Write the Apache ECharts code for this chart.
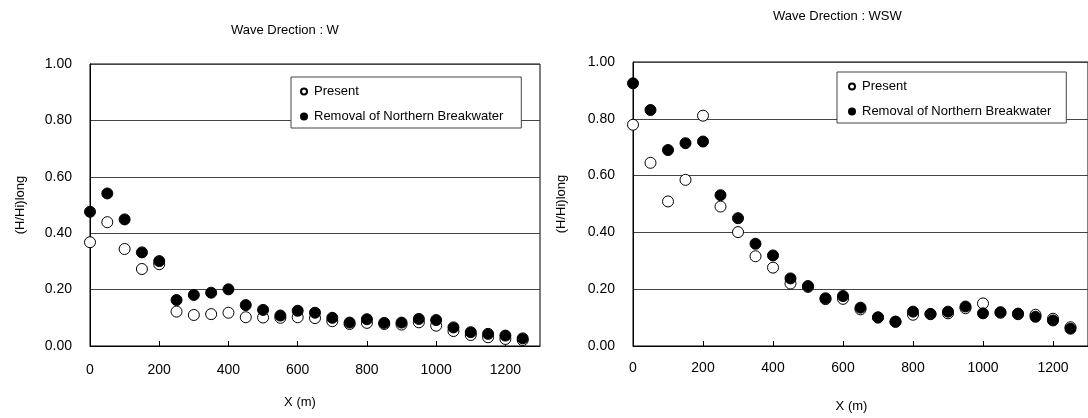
<!DOCTYPE html>
<html>
<head>
<meta charset="utf-8">
<script src="https://cdn.jsdelivr.net/npm/echarts@6/dist/echarts.min.js"></script>
<style>
  html, body { margin: 0; padding: 0; background: #fff; }
  #chart { width: 1088px; height: 418px; }
</style>
</head>
<body>
<div id="chart"></div>
<script>
// distance along the line, m
const distances = [0, 50, 100, 150, 200, 250, 300, 350, 400, 450, 500, 550, 600,
  650, 700, 750, 800, 850, 900, 950, 1000, 1050, 1100, 1150, 1200, 1250];

// Wave direction W
const presentW = [0.368, 0.439, 0.344, 0.273, 0.290, 0.122, 0.110, 0.113, 0.118, 0.102, 0.101, 0.100, 0.102,
  0.099, 0.088, 0.078, 0.082, 0.078, 0.076, 0.084, 0.072, 0.053, 0.039, 0.031, 0.025, 0.021];
const removalW = [0.476, 0.541, 0.449, 0.332, 0.301, 0.163, 0.181, 0.189, 0.201, 0.145, 0.128, 0.108, 0.125,
  0.118, 0.100, 0.083, 0.095, 0.082, 0.083, 0.096, 0.092, 0.066, 0.049, 0.043, 0.037, 0.027];

// Wave direction WSW
const presentWSW = [0.779, 0.645, 0.509, 0.585, 0.811, 0.491, 0.401, 0.316, 0.276, 0.220, 0.208, 0.165, 0.166,
  0.129, 0.100, 0.085, 0.110, 0.112, 0.115, 0.133, 0.150, 0.117, 0.112, 0.110, 0.096, 0.066];
const removalWSW = [0.925, 0.831, 0.690, 0.714, 0.720, 0.531, 0.450, 0.360, 0.319, 0.238, 0.211, 0.168, 0.176,
  0.135, 0.101, 0.086, 0.121, 0.113, 0.121, 0.139, 0.115, 0.119, 0.114, 0.103, 0.090, 0.061];

const seriesNames = ["Present", "Removal of Northern Breakwater"];
const titles = ["Wave Drection : W", "Wave Drection : WSW"];

const FONT = "'Liberation Sans', Arial, sans-serif";

const pairs = (ys) => distances.map((x, i) => [x, ys[i]]);

const xAxisFor = (gridIndex, labelMargin, nameGap, shift) => ({
  type: "value",
  gridIndex: gridIndex,
  min: 0,
  max: 1300,
  interval: 200,
  name: "X (m)",
  nameLocation: "middle",
  nameGap: nameGap,
  nameTextStyle: { color: "#000", fontSize: 13, fontFamily: FONT, padding: [0, shift, 0, 0] },
  axisLine: { show: true, lineStyle: { color: "#000", width: 1 } },
  axisTick: { show: true, inside: true, length: 5, lineStyle: { color: "#000" } },
  axisLabel: {
    color: "#000", fontSize: 14, fontFamily: FONT, margin: labelMargin,
    showMaxLabel: false, formatter: v => String(v)
  },
  splitLine: { show: false }
});

const yAxisFor = (gridIndex, nameGap) => ({
  type: "value",
  gridIndex: gridIndex,
  min: 0,
  max: 1,
  interval: 0.2,
  name: "(H/Hi)long",
  nameLocation: "middle",
  nameRotate: 90,
  nameGap: nameGap,
  nameTextStyle: { color: "#000", fontSize: 13, fontFamily: FONT },
  axisLine: { show: true, lineStyle: { color: "#000", width: 1 } },
  axisTick: { show: false },
  axisLabel: { color: "#000", fontSize: 14, fontFamily: FONT, margin: 18, formatter: v => v.toFixed(2) },
  splitLine: { show: true, lineStyle: { color: "#444", width: 1 } }
});

const scatterFor = (name, idx, ys) => ({
  name: name,
  type: "scatter",
  xAxisIndex: idx,
  yAxisIndex: idx,
  data: pairs(ys),
  symbol: "circle",
  symbolSize: 11,
  itemStyle: name === seriesNames[0]
    ? { color: "#fff", borderColor: "#000", borderWidth: 1, opacity: 1 }
    : { color: "#000", borderColor: "#000", borderWidth: 1, opacity: 1 }
});

const legendFor = (left, top, padding) => ({
  data: seriesNames,
  orient: "vertical",
  left: left,
  top: top,
  padding: padding,
  itemGap: 12,
  itemWidth: 10,
  itemHeight: 6,
  backgroundColor: "#fff",
  borderColor: "#444",
  borderWidth: 1,
  borderRadius: 0,
  selectedMode: false,
  textStyle: { color: "#000", fontSize: 13, fontFamily: FONT }
});

const chart = echarts.init(document.getElementById("chart"), null, { renderer: "canvas" });

chart.setOption({
  animation: false,
  backgroundColor: "#fff",
  title: [
    { text: titles[0], left: 226, top: 19, textStyle: { color: "#000", fontSize: 13, fontWeight: "normal", fontFamily: FONT } },
    { text: titles[1], left: 768, top: 5, textStyle: { color: "#000", fontSize: 13, fontWeight: "normal", fontFamily: FONT } }
  ],
  legend: [
    legendFor(291, 77, [8, 18, 5, 9]),
    legendFor(837, 72, [8, 15, 5, 11])
  ],
  grid: [
    { left: 90, top: 64, width: 450, height: 282, show: true, borderColor: "#000", borderWidth: 1, backgroundColor: "#fff" },
    { left: 633, top: 62, width: 458, height: 286, show: true, borderColor: "#000", borderWidth: 1, backgroundColor: "#fff" }
  ],
  xAxis: [
    xAxisFor(0, 17, 50, 30),
    xAxisFor(1, 15, 54, 18)
  ],
  yAxis: [
    yAxisFor(0, 63),
    yAxisFor(1, 65)
  ],
  series: [
    scatterFor(seriesNames[0], 0, presentW),
    scatterFor(seriesNames[1], 0, removalW),
    scatterFor(seriesNames[0], 1, presentWSW),
    scatterFor(seriesNames[1], 1, removalWSW)
  ]
});
</script>
</body>
</html>
